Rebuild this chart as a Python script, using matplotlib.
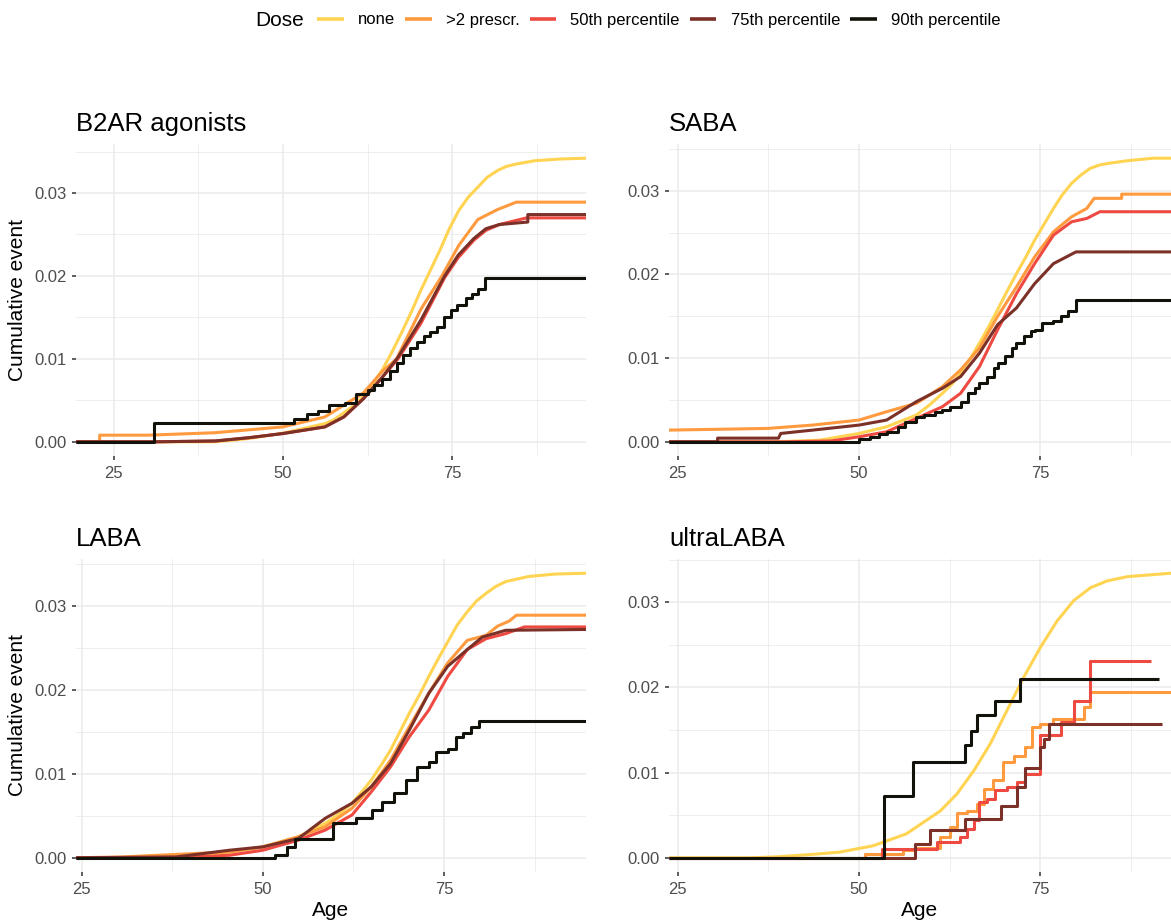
import matplotlib
matplotlib.use('Agg')
import matplotlib.pyplot as plt
from matplotlib.lines import Line2D
from matplotlib.ticker import FixedLocator

plt.rcParams['font.family'] = ['Liberation Sans', 'DejaVu Sans']

# ---------------- data ----------------
doses = ['none', '>2 prescr.', '50th percentile', '75th percentile', '90th percentile']
dose_colors = ['#FFD452', '#FF9A3E', '#EE4A42', '#7B3028', '#12110A']
panel_titles = ['B2AR agonists', 'SABA', 'LABA', 'ultraLABA']
x_ticks = [25, 50, 75]
x_minor = [37.5, 62.5, 87.5]
y_ticks = [0.00, 0.01, 0.02, 0.03]
y_minor = [0.005, 0.015, 0.025, 0.035]
y_tick_labels = ['0.00', '0.01', '0.02', '0.03']

# B2AR agonists
b2ar_none_age = [19.4, 40, 45, 50, 53, 56.2, 57.6, 59, 60.5, 61.9, 63.3, 64.7, 66.1, 67.5, 69.0, 70.4, 71.8, 73.2, 74.6, 76.0, 77.4, 78.8, 80.2, 81.7, 83.0, 84.5, 87.3, 91, 94.8]
b2ar_none_cum = [0, 0, 0.0004, 0.00104, 0.0016, 0.0022, 0.0027, 0.0035, 0.0044, 0.0055, 0.007, 0.0087, 0.0108, 0.0131, 0.0157, 0.0183, 0.0207, 0.0231, 0.0257, 0.0279, 0.0295, 0.0307, 0.0319, 0.0327, 0.0332, 0.0335, 0.0339, 0.0341, 0.0342]
b2ar_gt2_age = [19.4, 22.9, 22.9, 30, 40, 50, 56.2, 61.9, 64.7, 66.8, 70.4, 73.5, 76.0, 78.8, 81.7, 84.5, 94.8]
b2ar_gt2_cum = [0, 0, 0.0008, 0.0008, 0.0011, 0.0018, 0.003, 0.0059, 0.0085, 0.0100, 0.016, 0.020, 0.0237, 0.0268, 0.028, 0.0289, 0.0289]
b2ar_p50_age = [19.4, 31, 40, 45, 50, 56.2, 59, 61.9, 64.7, 67.0, 70.4, 73.9, 75.9, 78.2, 80.0, 82.0, 84.5, 86.0, 94.8]
b2ar_p50_cum = [0, 0, 0.0001, 0.0005, 0.001, 0.0018, 0.003, 0.0052, 0.0078, 0.0100, 0.0143, 0.0198, 0.0222, 0.0243, 0.0255, 0.0262, 0.0267, 0.0270, 0.0270]
b2ar_p75_age = [19.4, 31, 40, 45, 50, 56.2, 59, 61.9, 64.7, 67.0, 70.4, 73.9, 75.9, 78.2, 80.0, 82.0, 86.2, 86.2, 94.8]
b2ar_p75_cum = [0, 0, 0.0001, 0.0005, 0.001, 0.0018, 0.003, 0.0052, 0.0078, 0.0102, 0.0147, 0.0200, 0.0225, 0.0245, 0.0257, 0.0262, 0.0265, 0.0274, 0.0274]
b2ar_p90_age = [19.4, 30.9, 51.7, 53.5, 55.2, 56.8, 59.1, 60.8, 62.5, 63.5, 64.7, 65.8, 66.8, 67.8, 68.8, 69.8, 70.8, 71.8, 72.8, 73.8, 74.9, 75.8, 77.1, 78.0, 78.8, 79.9, 94.8]
b2ar_p90_cum = [0, 0.0023, 0.0028, 0.0033, 0.0037, 0.0044, 0.0047, 0.0058, 0.0063, 0.0068, 0.0076, 0.0085, 0.0095, 0.0105, 0.0113, 0.0120, 0.0127, 0.0133, 0.0139, 0.0150, 0.0159, 0.0165, 0.0173, 0.0178, 0.0184, 0.0197, 0.0197]

# SABA
saba_none_age = [23.8, 38.4, 44.6, 50, 53.8, 57.9, 59.7, 61.5, 62.8, 64, 65.3, 66.6, 67.9, 69.1, 70.4, 71.7, 73.0, 74.2, 75.5, 76.8, 78.0, 79.3, 80.6, 81.9, 83.2, 84.5, 87.0, 90.6, 93.0]
saba_none_cum = [0, 0, 0.0002, 0.001, 0.0018, 0.0032, 0.0044, 0.0058, 0.0069, 0.0082, 0.0099, 0.0118, 0.0138, 0.0158, 0.018, 0.0201, 0.0221, 0.0241, 0.026, 0.0279, 0.0295, 0.0309, 0.0319, 0.0327, 0.0331, 0.0333, 0.0336, 0.0339, 0.0339]
saba_gt2_age = [23.8, 37.4, 43.6, 50, 53.8, 57.9, 61.5, 64, 66.6, 69.1, 71.7, 74.2, 76.8, 79.3, 81.4, 82.4, 86.2, 86.2, 93.0]
saba_gt2_cum = [0.0014, 0.0016, 0.002, 0.0026, 0.0036, 0.0046, 0.0066, 0.0086, 0.0112, 0.015, 0.0185, 0.0221, 0.0251, 0.0269, 0.0279, 0.0291, 0.0291, 0.0296, 0.0296]
saba_p50_age = [23.8, 39.5, 46.1, 50, 53.8, 57.9, 61.5, 64, 66.6, 69.1, 71.7, 74.2, 76.8, 79.3, 81.4, 83.2, 93.0]
saba_p50_cum = [0, 0, 0.0001, 0.0006, 0.0012, 0.0028, 0.0042, 0.0058, 0.009, 0.0134, 0.0177, 0.0213, 0.0247, 0.0263, 0.0267, 0.0275, 0.0275]
saba_p75_age = [23.8, 30.5, 30.5, 38.9, 39.2, 43.6, 50, 53.8, 57.9, 61.5, 64, 66.6, 69.1, 71.7, 74.2, 76.8, 78.8, 79.9, 93.0]
saba_p75_cum = [0, 0, 0.00044, 0.00044, 0.001, 0.0014, 0.002, 0.0026, 0.0048, 0.0064, 0.0078, 0.0106, 0.014, 0.016, 0.0189, 0.0213, 0.0222, 0.0227, 0.0227]
saba_p90_age = [23.8, 50, 51.5, 52.8, 53.8, 55.3, 56.4, 57.9, 58.9, 60.4, 61.5, 62.5, 64, 65.0, 66.0, 66.6, 67.6, 68.6, 69.1, 70.1, 71.1, 71.7, 72.7, 73.7, 74.2, 75.2, 76.8, 77.8, 78.8, 79.9, 93.0]
saba_p90_cum = [0, 0.0003, 0.0006, 0.0009, 0.0012, 0.0018, 0.0024, 0.003, 0.0032, 0.0036, 0.0038, 0.0042, 0.0048, 0.0058, 0.0064, 0.007, 0.0078, 0.0088, 0.0094, 0.0102, 0.0112, 0.0118, 0.0126, 0.0132, 0.0134, 0.0142, 0.0144, 0.015, 0.0156, 0.0169, 0.0169]

# LABA
laba_none_age = [24.2, 34.8, 42.8, 50, 54.9, 58.6, 60.5, 62.3, 63.6, 65, 66.3, 67.6, 68.9, 70.2, 71.6, 72.9, 74.2, 75.5, 76.8, 78.2, 79.5, 80.8, 82.1, 83.5, 86.6, 90.3, 94.6]
laba_none_cum = [0, 0, 0.0003, 0.0013, 0.0025, 0.0041, 0.0052, 0.0065, 0.0078, 0.0093, 0.011, 0.0128, 0.015, 0.0172, 0.0194, 0.0216, 0.0237, 0.0257, 0.0277, 0.0293, 0.0306, 0.0315, 0.0323, 0.0329, 0.0335, 0.0338, 0.0339]
laba_gt2_age = [24.2, 30.6, 38, 45.4, 50, 54.9, 58.6, 62.3, 65, 67.6, 70.2, 72.9, 75.5, 78.2, 80.8, 82.4, 84, 85, 94.6]
laba_gt2_cum = [0, 0.0001, 0.0004, 0.0007, 0.0013, 0.0025, 0.0037, 0.0059, 0.0085, 0.0116, 0.0156, 0.0196, 0.0232, 0.0259, 0.0265, 0.0276, 0.0282, 0.0289, 0.0289]
laba_p50_age = [24.2, 38, 45.4, 50, 54.9, 58.6, 62.3, 65, 67.6, 70.2, 72.9, 75.5, 78.2, 80.8, 83.5, 86.1, 94.6]
laba_p50_cum = [0, 0, 0.0003, 0.0009, 0.0021, 0.0033, 0.0051, 0.0079, 0.0108, 0.0144, 0.0176, 0.0216, 0.0248, 0.0261, 0.0267, 0.0275, 0.0275]
laba_p75_age = [24.2, 38, 45.4, 50, 54.9, 58.6, 62.3, 65, 67.6, 70.2, 72.9, 75.5, 78.2, 80.3, 81.9, 83.5, 94.6]
laba_p75_cum = [0, 0.0001, 0.0009, 0.0013, 0.0023, 0.0047, 0.0065, 0.0085, 0.0112, 0.0152, 0.0196, 0.0228, 0.0248, 0.0263, 0.0267, 0.0271, 0.0272]
laba_p90_age = [24.2, 51.7, 53.3, 54.4, 59.7, 62.8, 65, 66.5, 68.1, 69.7, 71.3, 72.9, 73.9, 75.5, 76.6, 77.6, 78.7, 79.8, 94.6]
laba_p90_cum = [0, 0.0003, 0.0013, 0.0022, 0.0042, 0.0047, 0.0057, 0.0067, 0.0077, 0.0093, 0.0108, 0.0114, 0.0126, 0.013, 0.0144, 0.0149, 0.0156, 0.0163, 0.0163]

# ultraLABA
ultra_none_age = [23.8, 35, 38.4, 43.6, 47.3, 51.9, 56.5, 61.2, 63.5, 65.8, 68.1, 70.4, 72.7, 75, 77.3, 79.6, 81.9, 84.2, 87, 93.0]
ultra_none_cum = [0, 0, 0.0001, 0.0004, 0.00066, 0.0014, 0.0028, 0.0055, 0.0075, 0.0102, 0.0134, 0.0173, 0.0212, 0.0247, 0.0278, 0.0302, 0.0317, 0.0325, 0.033, 0.0334]
ultra_gt2_age = [23.8, 50.8, 56.1, 57.7, 61.2, 62.5, 63.5, 64.9, 66.2, 67.2, 68.5, 69.9, 71.3, 72.9, 73.8, 75, 76.8, 81, 81.9, 93.0]
ultra_gt2_cum = [0, 0.0004, 0.0009, 0.0012, 0.0024, 0.0036, 0.0052, 0.0055, 0.0063, 0.0081, 0.0091, 0.0112, 0.012, 0.013, 0.0153, 0.0157, 0.0163, 0.0177, 0.0194, 0.0194]
ultra_p50_age = [23.8, 53.1, 60.7, 63.9, 64.9, 65.8, 66.5, 67.6, 68.8, 70.4, 71.8, 72.9, 75, 77.8, 79.6, 81.9, 90.2]
ultra_p50_cum = [0, 0.001, 0.0018, 0.0024, 0.0034, 0.0044, 0.0065, 0.0069, 0.0079, 0.0083, 0.0089, 0.0098, 0.0144, 0.0159, 0.0184, 0.0231, 0.0231]
ultra_p75_age = [23.8, 57.7, 59.8, 64.6, 69.5, 71.8, 72.9, 75, 75.5, 76.2, 91.7]
ultra_p75_cum = [0, 0.0016, 0.0033, 0.0046, 0.0061, 0.0083, 0.0105, 0.013, 0.014, 0.0157, 0.0157]
ultra_p90_age = [23.8, 53.5, 57.5, 64.6, 65.4, 66.3, 68.8, 72.2, 91.4]
ultra_p90_cum = [0, 0.0073, 0.0112, 0.0132, 0.0149, 0.0168, 0.0184, 0.021, 0.021]

panel_xlims = [(19.4, 94.8), (23.8, 93.0), (24.2, 94.6), (23.8, 93.0)]

panels = [
    [(b2ar_none_age, b2ar_none_cum, False), (b2ar_gt2_age, b2ar_gt2_cum, False),
     (b2ar_p50_age, b2ar_p50_cum, False), (b2ar_p75_age, b2ar_p75_cum, False),
     (b2ar_p90_age, b2ar_p90_cum, True)],
    [(saba_none_age, saba_none_cum, False), (saba_gt2_age, saba_gt2_cum, False),
     (saba_p50_age, saba_p50_cum, False), (saba_p75_age, saba_p75_cum, False),
     (saba_p90_age, saba_p90_cum, True)],
    [(laba_none_age, laba_none_cum, False), (laba_gt2_age, laba_gt2_cum, False),
     (laba_p50_age, laba_p50_cum, False), (laba_p75_age, laba_p75_cum, False),
     (laba_p90_age, laba_p90_cum, True)],
    [(ultra_none_age, ultra_none_cum, False), (ultra_gt2_age, ultra_gt2_cum, True),
     (ultra_p50_age, ultra_p50_cum, True), (ultra_p75_age, ultra_p75_cum, True),
     (ultra_p90_age, ultra_p90_cum, True)],
]

# ---------------- layout ----------------
W, H = 1171, 924
fig = plt.figure(figsize=(W / 100, H / 100), dpi=100)
fig.patch.set_facecolor('white')

# pixel boxes: left, top, right, bottom
boxes = [(76, 144, 586, 456), (669, 144, 1171, 456), (76, 559, 586, 872), (669, 559, 1171, 872)]

grid_col = '#EBEBEB'
text_col = '#4D4D4D'

for i, (box, series, title, xl) in enumerate(zip(boxes, panels, panel_titles, panel_xlims)):
    l, t, r, b = box
    ax = fig.add_axes([l / W, (H - b) / H, (r - l) / W, (b - t) / H])
    ax.set_facecolor('white')
    ymax = max(max(s[1]) for s in series)
    ax.set_xlim(*xl)
    ax.set_ylim(-0.05 * ymax, 1.05 * ymax)

    for (ages, cums, step), col in zip(series, dose_colors):
        ax.plot(ages, cums, color=col, lw=2.2, drawstyle='steps-post' if step else 'default',
                solid_capstyle='butt', solid_joinstyle='round', zorder=3)

    ax.xaxis.set_major_locator(FixedLocator(x_ticks))
    ax.xaxis.set_minor_locator(FixedLocator(x_minor))
    ax.yaxis.set_major_locator(FixedLocator(y_ticks))
    ax.yaxis.set_minor_locator(FixedLocator(y_minor))
    ax.set_yticklabels(y_tick_labels)
    ax.set_xticklabels([str(v) for v in x_ticks])
    ax.grid(which='major', color=grid_col, lw=1.1, zorder=0)
    ax.grid(which='minor', color=grid_col, lw=0.6, zorder=0)
    ax.set_axisbelow(True)
    for sp in ax.spines.values():
        sp.set_visible(False)
    ax.tick_params(which='major', length=3, width=1.1, color='#333333', labelsize=12,
                   labelcolor=text_col, pad=4)
    ax.tick_params(which='minor', length=0)

    ax.text(0.0, 1 + 13 / (b - t), title, transform=ax.transAxes, ha='left', va='baseline',
            fontsize=18.5, color='black')

    if i in (0, 2):
        ax.set_ylabel('Cumulative event', fontsize=15, color='black')
        ax.yaxis.set_label_coords((18 - l) / (r - l), 0.5)
        ax.yaxis.label.set_va('center')
    if i in (2, 3):
        ax.set_xlabel('Age', fontsize=15, color='black')
        ax.xaxis.set_label_coords(0.5, -(911 - b) / (b - t))
        ax.xaxis.label.set_va('center')

# ---------------- legend ----------------
fig.text(255 / W, 1 - 20 / H, 'Dose', fontsize=15, ha='left', va='center', color='black')
handles = [Line2D([], [], color=c, lw=2.6, solid_capstyle='butt') for c in dose_colors]
fig.legend(handles, doses, loc='center left', bbox_to_anchor=(317 / W, 1 - 20 / H),
           ncol=5, frameon=False, fontsize=12, handlelength=1.6, handletextpad=0.85,
           columnspacing=0.6, borderpad=0, borderaxespad=0)

fig.savefig('out.png', dpi=100, facecolor='white')
